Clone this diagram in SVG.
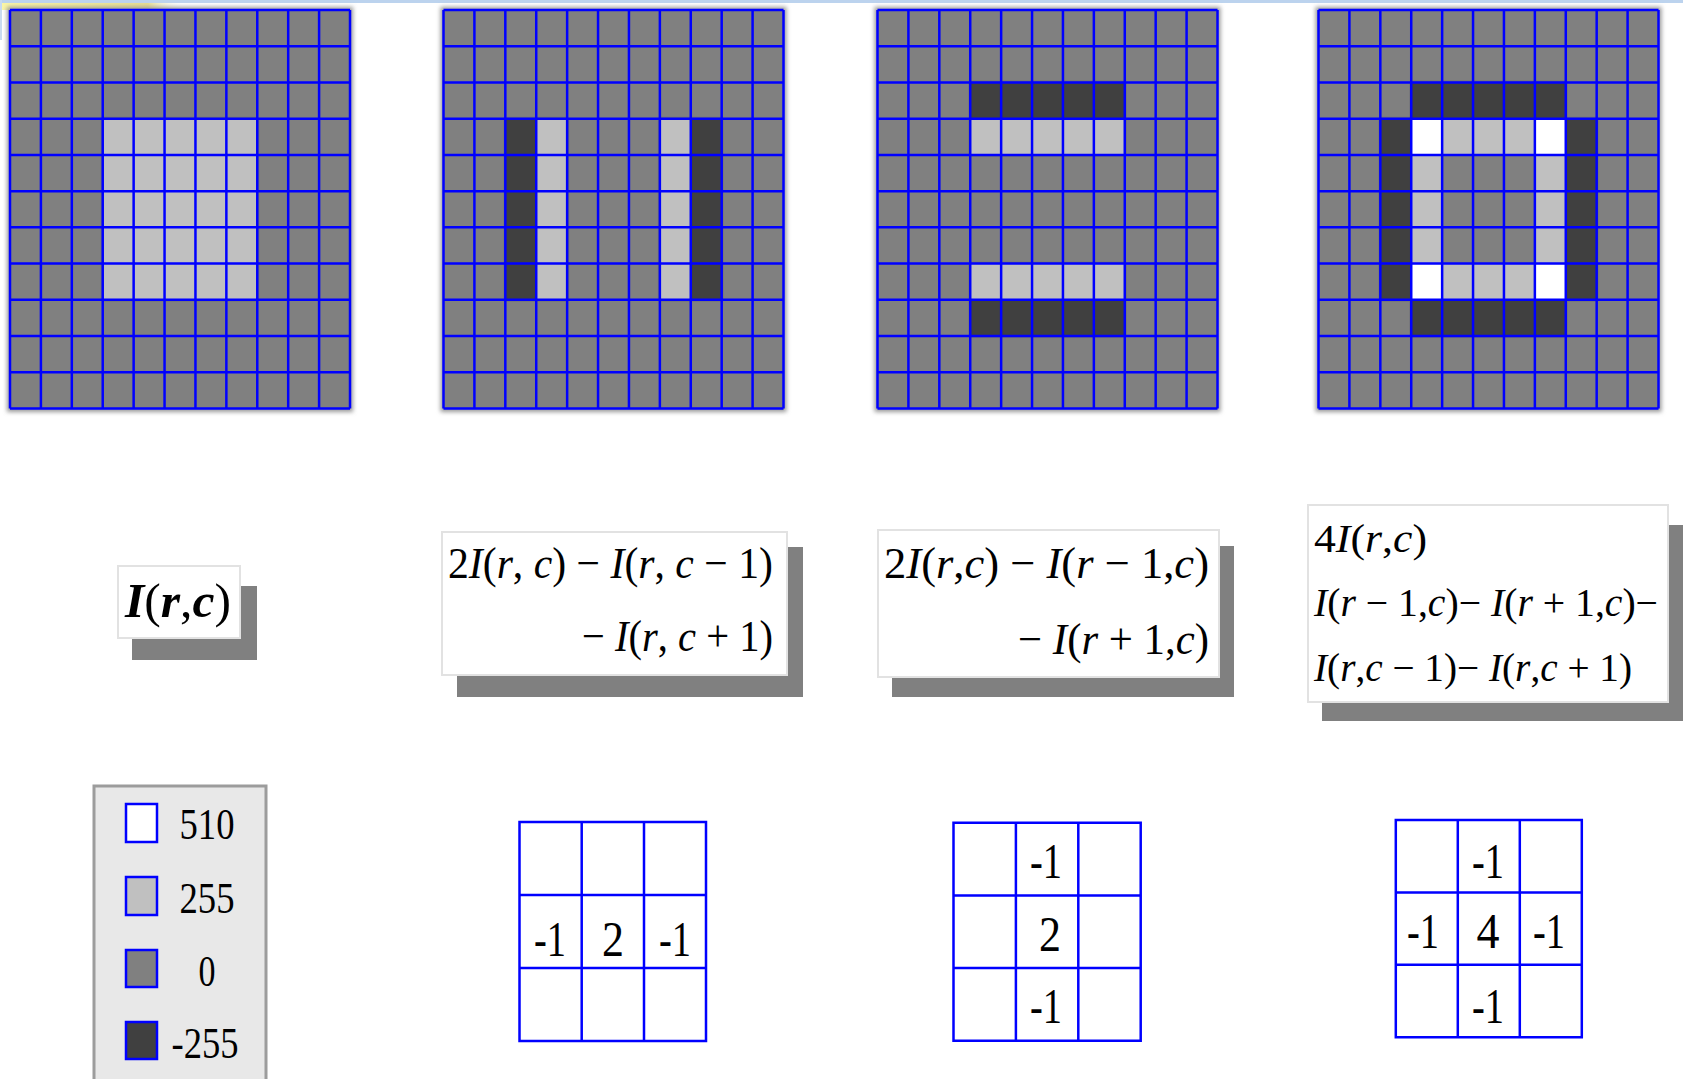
<svg xmlns="http://www.w3.org/2000/svg" xmlns:xlink="http://www.w3.org/1999/xlink" width="1683" height="1079" viewBox="0 0 1683 1079">
<style>
.mid{fill:#808080}
.lt{fill:#C0C0C0}
.dk{fill:#404040}
.wh{fill:#FFFFFF}
.gl{fill:none;stroke:#0000FF;stroke-width:2.5}
.box{fill:#FFFFFF;stroke:#E2E2E2;stroke-width:2}
.shadow{fill:#808080}
.f{font-family:"Liberation Serif","Times New Roman",serif;fill:#000}
.it{font-style:italic}
.num{font-family:"Liberation Serif","Times New Roman",serif;fill:#000;text-anchor:middle}
.kc{fill:#FFFFFF;stroke:#0000FF;stroke-width:2.5}
.sw{stroke:#0000FF;stroke-width:2.5}
</style>
<defs>
<filter id="halo" x="-5%" y="-5%" width="110%" height="110%"><feGaussianBlur stdDeviation="2"/></filter>
<filter id="edge" x="-10%" y="-10%" width="120%" height="120%"><feDropShadow dx="0" dy="0" stdDeviation="1.2" flood-color="#222" flood-opacity="0.9"/></filter>
<linearGradient id="yel" x1="0" y1="0" x2="1" y2="0"><stop offset="0" stop-color="#FBF6A6"/><stop offset="0.8" stop-color="#E8DE90"/><stop offset="1" stop-color="#FFFFFF" stop-opacity="0"/></linearGradient>
<g id="gridbg">
<rect x="-3" y="-3" width="346" height="405" fill="#9A9A9A" filter="url(#halo)"/>
<rect x="0" y="0" width="340" height="398.5" class="mid"/>
</g>
<path id="gridlines" class="gl" d="M0 0V398.5M30.91 0V398.5M61.82 0V398.5M92.73 0V398.5M123.64 0V398.5M154.55 0V398.5M185.45 0V398.5M216.36 0V398.5M247.27 0V398.5M278.18 0V398.5M309.09 0V398.5M340 0V398.5M0 0H340M0 36.23H340M0 72.45H340M0 108.68H340M0 144.91H340M0 181.14H340M0 217.36H340M0 253.59H340M0 289.82H340M0 326.05H340M0 362.27H340M0 398.5H340"/>
</defs>
<rect width="1683" height="1079" fill="#FFFFFF"/>
<rect x="0" y="0" width="1683" height="3" fill="#BCD3EE"/>
<rect x="0" y="3" width="185" height="7" fill="url(#yel)"/>
<rect x="0" y="0" width="2" height="40" fill="#C8DAF0"/>

<g id="grid1" transform="translate(10,10)">
<use href="#gridbg"/>
<g filter="url(#edge)"><rect class="lt" x="92.73" y="108.68" width="154.55" height="181.14"/></g>
<use href="#gridlines"/>
</g>

<g id="grid2" transform="translate(443.5,10)">
<use href="#gridbg"/>
<g filter="url(#edge)">
<rect class="dk" x="61.82" y="108.68" width="30.91" height="181.14"/>
<rect class="lt" x="92.73" y="108.68" width="30.91" height="181.14"/>
<rect class="lt" x="216.36" y="108.68" width="30.91" height="181.14"/>
<rect class="dk" x="247.27" y="108.68" width="30.91" height="181.14"/>
</g>
<use href="#gridlines"/>
</g>

<g id="grid3" transform="translate(877.5,10)">
<use href="#gridbg"/>
<g filter="url(#edge)">
<rect class="dk" x="92.73" y="72.45" width="154.55" height="36.23"/>
<rect class="lt" x="92.73" y="108.68" width="154.55" height="36.23"/>
<rect class="lt" x="92.73" y="253.59" width="154.55" height="36.23"/>
<rect class="dk" x="92.73" y="289.82" width="154.55" height="36.23"/>
</g>
<use href="#gridlines"/>
</g>

<g id="grid4" transform="translate(1318.5,10)">
<use href="#gridbg"/>
<g filter="url(#edge)">
<rect class="dk" x="92.73" y="72.45" width="154.55" height="36.23"/>
<rect class="dk" x="92.73" y="289.82" width="154.55" height="36.23"/>
<rect class="dk" x="61.82" y="108.68" width="30.91" height="181.14"/>
<rect class="dk" x="247.27" y="108.68" width="30.91" height="181.14"/>
<rect class="lt" x="92.73" y="108.68" width="154.55" height="181.14"/>
<rect class="mid" x="123.64" y="144.91" width="92.73" height="108.68"/>
<rect class="wh" x="92.73" y="108.68" width="30.91" height="36.23"/>
<rect class="wh" x="216.36" y="108.68" width="30.91" height="36.23"/>
<rect class="wh" x="92.73" y="253.59" width="30.91" height="36.23"/>
<rect class="wh" x="216.36" y="253.59" width="30.91" height="36.23"/>
</g>
<use href="#gridlines"/>
</g>

<g id="formula1">
<rect class="shadow" x="132" y="586" width="125" height="74"/>
<rect class="box" x="118" y="566" width="122" height="72"/>
<text class="f" x="125" y="617" font-size="48" textLength="106" lengthAdjust="spacingAndGlyphs"><tspan class="it" font-weight="bold">I</tspan>(<tspan class="it" font-weight="bold">r</tspan>,<tspan class="it" font-weight="bold">c</tspan>)</text>
</g>

<g id="formula2">
<rect class="shadow" x="457" y="547" width="346" height="150"/>
<rect class="box" x="442" y="532" width="345" height="143"/>
<text class="f" x="448" y="578" font-size="44" textLength="325" lengthAdjust="spacingAndGlyphs">2<tspan class="it">I</tspan>(<tspan class="it">r</tspan>, <tspan class="it">c</tspan>) − <tspan class="it">I</tspan>(<tspan class="it">r</tspan>, <tspan class="it">c</tspan> − 1)</text>
<text class="f" x="582" y="651" font-size="44" textLength="191" lengthAdjust="spacingAndGlyphs">− <tspan class="it">I</tspan>(<tspan class="it">r</tspan>, <tspan class="it">c</tspan> + 1)</text>
</g>

<g id="formula3">
<rect class="shadow" x="892" y="546" width="342" height="151"/>
<rect class="box" x="878" y="530" width="341" height="147"/>
<text class="f" x="884" y="578" font-size="44" textLength="325" lengthAdjust="spacingAndGlyphs">2<tspan class="it">I</tspan>(<tspan class="it">r</tspan>,<tspan class="it">c</tspan>) − <tspan class="it">I</tspan>(<tspan class="it">r</tspan> − 1,<tspan class="it">c</tspan>)</text>
<text class="f" x="1018" y="654" font-size="44" textLength="191" lengthAdjust="spacingAndGlyphs">− <tspan class="it">I</tspan>(<tspan class="it">r</tspan> + 1,<tspan class="it">c</tspan>)</text>
</g>

<g id="formula4">
<rect class="shadow" x="1322" y="525" width="361" height="196"/>
<rect class="box" x="1308" y="505" width="360" height="197"/>
<text class="f" x="1314" y="552" font-size="39" textLength="113" lengthAdjust="spacingAndGlyphs">4<tspan class="it">I</tspan>(<tspan class="it">r</tspan>,<tspan class="it">c</tspan>)</text>
<text class="f" x="1314" y="616" font-size="39" textLength="344" lengthAdjust="spacingAndGlyphs"><tspan class="it">I</tspan>(<tspan class="it">r</tspan> − 1,<tspan class="it">c</tspan>)− <tspan class="it">I</tspan>(<tspan class="it">r</tspan> + 1,<tspan class="it">c</tspan>)−</text>
<text class="f" x="1314" y="681" font-size="39" textLength="318" lengthAdjust="spacingAndGlyphs"><tspan class="it">I</tspan>(<tspan class="it">r</tspan>,<tspan class="it">c</tspan> − 1)− <tspan class="it">I</tspan>(<tspan class="it">r</tspan>,<tspan class="it">c</tspan> + 1)</text>
</g>

<g id="legend">
<rect x="94" y="786" width="172" height="300" fill="#E8E8E8" stroke="#9C9C9C" stroke-width="3"/>
<rect class="sw wh" x="126" y="804" width="31" height="38"/>
<rect class="sw lt" x="126" y="877" width="31" height="38"/>
<rect class="sw mid" x="126" y="950" width="31" height="37"/>
<rect class="sw dk" x="126" y="1022" width="31" height="37"/>
<text class="num" x="207" y="839" font-size="45" textLength="55" lengthAdjust="spacingAndGlyphs">510</text>
<text class="num" x="207" y="913" font-size="45" textLength="55" lengthAdjust="spacingAndGlyphs">255</text>
<text class="num" x="207" y="986" font-size="45" textLength="17" lengthAdjust="spacingAndGlyphs">0</text>
<text class="num" x="205" y="1058" font-size="45" textLength="67" lengthAdjust="spacingAndGlyphs">-255</text>
</g>

<g id="kernel1">
<path class="kc" d="M519.5 822H706V1041H519.5Z"/>
<path class="gl" d="M581.7 822V1041M644 822V1041M519.5 895H706M519.5 968H706"/>
<text class="num" x="550" y="956" font-size="50" textLength="32" lengthAdjust="spacingAndGlyphs">-1</text>
<text class="num" x="613" y="956" font-size="50" textLength="22" lengthAdjust="spacingAndGlyphs">2</text>
<text class="num" x="675" y="956" font-size="50" textLength="32" lengthAdjust="spacingAndGlyphs">-1</text>
</g>

<g id="kernel2">
<path class="kc" d="M953.5 822.7H1140.7V1040.7H953.5Z"/>
<path class="gl" d="M1015.9 822.7V1040.7M1078.3 822.7V1040.7M953.5 895.4H1140.7M953.5 968H1140.7"/>
<text class="num" x="1046" y="878" font-size="50" textLength="32" lengthAdjust="spacingAndGlyphs">-1</text>
<text class="num" x="1050" y="951" font-size="50" textLength="22" lengthAdjust="spacingAndGlyphs">2</text>
<text class="num" x="1046" y="1023" font-size="50" textLength="32" lengthAdjust="spacingAndGlyphs">-1</text>
</g>

<g id="kernel3">
<path class="kc" d="M1395.8 820H1581.8V1037.3H1395.8Z"/>
<path class="gl" d="M1457.8 820V1037.3M1519.8 820V1037.3M1395.8 892.4H1581.8M1395.8 964.8H1581.8"/>
<text class="num" x="1488" y="878" font-size="50" textLength="32" lengthAdjust="spacingAndGlyphs">-1</text>
<text class="num" x="1423" y="948" font-size="50" textLength="32" lengthAdjust="spacingAndGlyphs">-1</text>
<text class="num" x="1488" y="948" font-size="50" textLength="23" lengthAdjust="spacingAndGlyphs">4</text>
<text class="num" x="1549" y="948" font-size="50" textLength="32" lengthAdjust="spacingAndGlyphs">-1</text>
<text class="num" x="1488" y="1023" font-size="50" textLength="32" lengthAdjust="spacingAndGlyphs">-1</text>
</g>

<g id="connectors"></g>
</svg>
